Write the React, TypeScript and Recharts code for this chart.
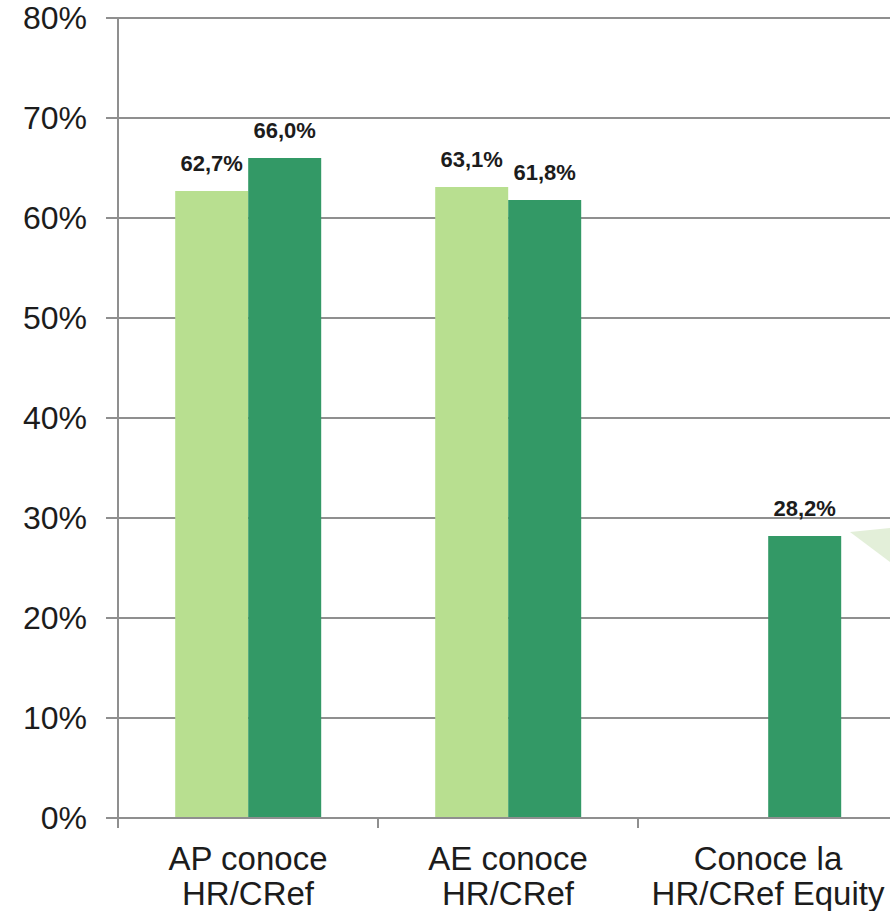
import { BarChart, Bar, XAxis, YAxis, CartesianGrid, LabelList } from 'recharts'

const categories = ['AP conoce\nHR/CRef', 'AE conoce\nHR/CRef', 'Conoce la\nHR/CRef Equity']
const lightValues = [62.7, 63.1, null]
const darkValues = [66.0, 61.8, 28.2]
const yTicks = [0, 10, 20, 30, 40, 50, 60, 70, 80]

const LIGHT = '#b8df90'
const DARK = '#339966'
const GRID = '#8f8f8f'
const TEXT = '#1c1c1c'
const FONT = '"Liberation Sans", Arial, sans-serif'

const W = 890
const H = 911
const Y_W = 110
const BAND = (W - Y_W) / categories.length

const data = categories.map((name, i) => ({ name, light: lightValues[i], dark: darkValues[i] }))

const fmt = (v: any) => (v == null ? '' : Number(v).toFixed(1).replace('.', ',') + '%')

function CategoryTick({ x, y, payload }: any) {
  const lines = String(payload.value).split('\n')
  const left = x - BAND / 2
  return (
    <g>
      <line x1={left} x2={left} y1={y} y2={y + 10} stroke={GRID} strokeWidth={2} />
      <text x={x} y={y} textAnchor="middle" fill={TEXT} fontSize={33} fontFamily={FONT}>
        {lines.map((l, i) => (
          <tspan key={i} x={x} y={y + 52 + i * 35}>{l}</tspan>
        ))}
      </text>
    </g>
  )
}

export default function App() {
  return (
    <div style={{ position: 'absolute', left: 8, top: 0, width: 882, height: 911, overflow: 'hidden' }}>
      <BarChart width={W} height={H} data={data} margin={{ top: 18, right: 0, left: 0, bottom: 0 }}
        barCategoryGap="22%" barGap={0}>
        <CartesianGrid vertical={false} stroke={GRID} strokeWidth={2} />
        <XAxis dataKey="name" height={93} interval={0} tickSize={0} tickMargin={0}
          axisLine={{ stroke: GRID, strokeWidth: 2 }} tickLine={false} tick={<CategoryTick />} />
        <YAxis width={Y_W} domain={[0, 80]} ticks={yTicks} interval={0} tickSize={12} tickMargin={19}
          tickFormatter={(v: number) => `${v}%`}
          axisLine={{ stroke: GRID, strokeWidth: 2 }} tickLine={{ stroke: GRID, strokeWidth: 2 }}
          tick={{ fill: TEXT, fontSize: 32, fontFamily: FONT }} />
        <Bar dataKey="light" fill={LIGHT} isAnimationActive={false}>
          <LabelList dataKey="light" position="top" offset={20} formatter={fmt}
            style={{ fill: TEXT, fontSize: 22, fontWeight: 'bold', fontFamily: FONT }} />
        </Bar>
        <Bar dataKey="dark" fill={DARK} isAnimationActive={false}>
          <LabelList dataKey="dark" position="top" offset={20} formatter={fmt}
            style={{ fill: TEXT, fontSize: 22, fontWeight: 'bold', fontFamily: FONT }} />
        </Bar>
      </BarChart>
      <svg width={882} height={911} style={{ position: 'absolute', left: 0, top: 0, pointerEvents: 'none' }}>
        <polygon points="842,532 882,528 882,562" fill="#e3efd9" />
      </svg>
    </div>
  )
}
